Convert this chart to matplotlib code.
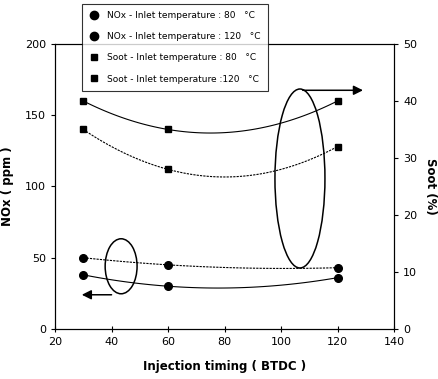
import numpy as np
import matplotlib.pyplot as plt
from matplotlib.patches import Ellipse
from matplotlib.lines import Line2D

timing = [30, 60, 120]
nox_80 = [38, 30, 36]
nox_120 = [50, 45, 43]
soot_80 = [40, 35, 40]
soot_120 = [35, 28, 32]

fig = plt.figure(figsize=(4.38, 3.79), dpi=100)
ax = fig.add_axes([0.1256, 0.132, 0.774, 0.752])
ax2 = ax.twinx()

xs = np.linspace(30, 120, 100)


def smooth(y):
    # quadratic trend through the three points, like the spreadsheet smoothing
    c = np.polyfit(timing, y, 2)
    return np.polyval(c, xs)


ax.plot(xs, smooth(nox_80), color='black', lw=0.8)
ax.plot(xs, smooth(nox_120), color='black', lw=0.8, ls=(0, (2, 1)))
ax.plot(timing, nox_80, 'o', color='black', ms=5.5)
ax.plot(timing, nox_120, 'o', color='black', ms=5.5)

ax2.plot(xs, smooth(soot_80), color='black', lw=0.8)
ax2.plot(xs, smooth(soot_120), color='black', lw=0.8, ls=(0, (2, 1)))
ax2.plot(timing, soot_80, 's', color='black', ms=4.5)
ax2.plot(timing, soot_120, 's', color='black', ms=4.5)

ax.set_xlim(20, 140)
ax.set_ylim(0, 200)
ax2.set_ylim(0, 50)
ax.set_xticks(range(20, 141, 20))
ax.set_yticks(range(0, 201, 50))
ax2.set_yticks(range(0, 51, 10))

# ellipses and arrows pointing to the axes
ax.add_patch(Ellipse((43.4, 44), 11.3, 38.6, fill=False, lw=1.1, color='black'))
ax.add_patch(Ellipse((106.7, 105.6), 17.7, 125.6, fill=False, lw=1.1, color='black'))
ax.annotate('', xy=(28.5, 24), xytext=(41, 24),
            arrowprops=dict(arrowstyle='-|>', color='black', lw=1.1, mutation_scale=14))
ax.annotate('', xy=(130, 167.5), xytext=(106.7, 167.5),
            arrowprops=dict(arrowstyle='-|>', color='black', lw=1.1, mutation_scale=14))

for a in (ax, ax2):
    a.tick_params(labelsize=8, length=3, width=0.8)
    for s in a.spines.values():
        s.set_linewidth(0.8)
ax.tick_params(axis='x', direction='inout', length=4)

ax.set_xlabel('Injection timing ( BTDC )', fontsize=8.5, fontweight='bold', labelpad=10)
ax.set_ylabel('NOx ( ppm )', fontsize=8.5, fontweight='bold', labelpad=8)
ax2.set_ylabel('Soot (%)', fontsize=8.5, fontweight='bold', rotation=270, labelpad=14)

handles = [
    Line2D([], [], marker='o', ls='', color='black', ms=6),
    Line2D([], [], marker='o', ls='', color='black', ms=6),
    Line2D([], [], marker='s', ls='', color='black', ms=5),
    Line2D([], [], marker='s', ls='', color='black', ms=5),
]
labels = [
    'NOx - Inlet temperature : 80   \u00b0C',
    'NOx - Inlet temperature : 120   \u00b0C',
    'Soot - Inlet temperature : 80   \u00b0C',
    'Soot - Inlet temperature :120   \u00b0C',
]
leg = fig.legend(handles, labels, loc='upper left', bbox_to_anchor=(0.187, 0.99),
                 fontsize=6.5, frameon=True, fancybox=False, edgecolor='black',
                 handlelength=1.0, handletextpad=1.0, labelspacing=1.35,
                 borderpad=0.8, borderaxespad=0)
leg.get_frame().set_linewidth(0.8)
leg.set_zorder(5)

fig.savefig('out.png', dpi=100)
